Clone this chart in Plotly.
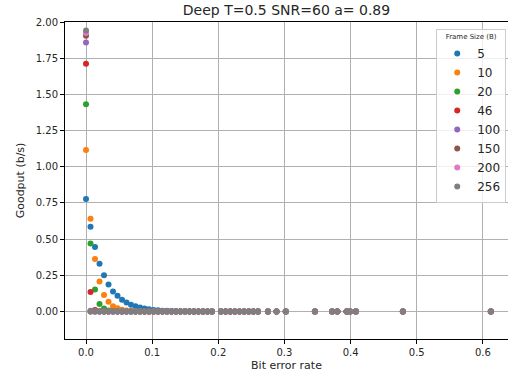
import plotly.graph_objects as go

ber = [0.0, 0.0068, 0.0136, 0.0204, 0.0272, 0.034, 0.0408, 0.0476, 0.0544, 0.0612,
       0.068, 0.0748, 0.0816, 0.0884, 0.0952, 0.102, 0.1088, 0.1156, 0.1224, 0.1292,
       0.136, 0.1428, 0.1496, 0.1564, 0.1632, 0.17, 0.1768, 0.1836, 0.1904,
       0.204, 0.211, 0.218, 0.225, 0.232, 0.239, 0.246, 0.253, 0.26,
       0.275, 0.288, 0.302, 0.346, 0.372, 0.38, 0.394, 0.399, 0.408, 0.479, 0.612]

g5 = [0.777, 0.585, 0.445, 0.33, 0.25, 0.187, 0.138, 0.108, 0.081, 0.062,
      0.047, 0.036, 0.027, 0.02, 0.015, 0.011, 0.008, 0.006, 0.0045, 0.0034,
      0.0025, 0.0019, 0.0014, 0.001, 0.0008, 0.0006, 0.0004, 0.0003, 0.0002,
      0.0, 0.0, 0.0, 0.0, 0.0, 0.0, 0.0, 0.0, 0.0,
      0.0, 0.0, 0.0, 0.0, 0.0, 0.0, 0.0, 0.0, 0.0, 0.0, 0.0]
g10 = [1.115, 0.64, 0.362, 0.207, 0.114, 0.067, 0.036, 0.022, 0.012, 0.007,
       0.004, 0.002, 0.001, 0.0006, 0.0003, 0.0002, 0.0001, 0.0, 0.0, 0.0,
       0.0, 0.0, 0.0, 0.0, 0.0, 0.0, 0.0, 0.0, 0.0,
       0.0, 0.0, 0.0, 0.0, 0.0, 0.0, 0.0, 0.0, 0.0,
       0.0, 0.0, 0.0, 0.0, 0.0, 0.0, 0.0, 0.0, 0.0, 0.0, 0.0]
g20 = [1.431, 0.47, 0.152, 0.052, 0.02, 0.007, 0.003, 0.001, 0.0004, 0.0001,
       0.0, 0.0, 0.0, 0.0, 0.0, 0.0, 0.0, 0.0, 0.0, 0.0,
       0.0, 0.0, 0.0, 0.0, 0.0, 0.0, 0.0, 0.0, 0.0,
       0.0, 0.0, 0.0, 0.0, 0.0, 0.0, 0.0, 0.0, 0.0,
       0.0, 0.0, 0.0, 0.0, 0.0, 0.0, 0.0, 0.0, 0.0, 0.0, 0.0]
g46 = [1.712, 0.134, 0.01, 0.001, 0.0, 0.0, 0.0, 0.0, 0.0, 0.0,
       0.0, 0.0, 0.0, 0.0, 0.0, 0.0, 0.0, 0.0, 0.0, 0.0,
       0.0, 0.0, 0.0, 0.0, 0.0, 0.0, 0.0, 0.0, 0.0,
       0.0, 0.0, 0.0, 0.0, 0.0, 0.0, 0.0, 0.0, 0.0,
       0.0, 0.0, 0.0, 0.0, 0.0, 0.0, 0.0, 0.0, 0.0, 0.0, 0.0]
g100 = [1.859, 0.006, 0.0, 0.0, 0.0, 0.0, 0.0, 0.0, 0.0, 0.0,
        0.0, 0.0, 0.0, 0.0, 0.0, 0.0, 0.0, 0.0, 0.0, 0.0,
        0.0, 0.0, 0.0, 0.0, 0.0, 0.0, 0.0, 0.0, 0.0,
        0.0, 0.0, 0.0, 0.0, 0.0, 0.0, 0.0, 0.0, 0.0,
        0.0, 0.0, 0.0, 0.0, 0.0, 0.0, 0.0, 0.0, 0.0, 0.0, 0.0]
g150 = [1.905, 0.0, 0.0, 0.0, 0.0, 0.0, 0.0, 0.0, 0.0, 0.0,
        0.0, 0.0, 0.0, 0.0, 0.0, 0.0, 0.0, 0.0, 0.0, 0.0,
        0.0, 0.0, 0.0, 0.0, 0.0, 0.0, 0.0, 0.0, 0.0,
        0.0, 0.0, 0.0, 0.0, 0.0, 0.0, 0.0, 0.0, 0.0,
        0.0, 0.0, 0.0, 0.0, 0.0, 0.0, 0.0, 0.0, 0.0, 0.0, 0.0]
g200 = [1.924, 0.0, 0.0, 0.0, 0.0, 0.0, 0.0, 0.0, 0.0, 0.0,
        0.0, 0.0, 0.0, 0.0, 0.0, 0.0, 0.0, 0.0, 0.0, 0.0,
        0.0, 0.0, 0.0, 0.0, 0.0, 0.0, 0.0, 0.0, 0.0,
        0.0, 0.0, 0.0, 0.0, 0.0, 0.0, 0.0, 0.0, 0.0,
        0.0, 0.0, 0.0, 0.0, 0.0, 0.0, 0.0, 0.0, 0.0, 0.0, 0.0]
g256 = [1.942, 0.0, 0.0, 0.0, 0.0, 0.0, 0.0, 0.0, 0.0, 0.0,
        0.0, 0.0, 0.0, 0.0, 0.0, 0.0, 0.0, 0.0, 0.0, 0.0,
        0.0, 0.0, 0.0, 0.0, 0.0, 0.0, 0.0, 0.0, 0.0,
        0.0, 0.0, 0.0, 0.0, 0.0, 0.0, 0.0, 0.0, 0.0,
        0.0, 0.0, 0.0, 0.0, 0.0, 0.0, 0.0, 0.0, 0.0, 0.0, 0.0]

frame_sizes = ["5", "10", "20", "46", "100", "150", "200", "256"]
series = [g5, g10, g20, g46, g100, g150, g200, g256]
colors = ["#1f77b4", "#ff7f0e", "#2ca02c", "#d62728", "#9467bd", "#8c564b", "#e377c2", "#7f7f7f"]

x_ticks = [0.0, 0.1, 0.2, 0.3, 0.4, 0.5, 0.6]
y_ticks = [0.0, 0.25, 0.5, 0.75, 1.0, 1.25, 1.5, 1.75, 2.0]

FONT = "DejaVu Sans"

fig = go.Figure()
for name, ys, c in zip(frame_sizes, series, colors):
    fig.add_trace(go.Scatter(x=ber, y=ys, mode="markers", name=name,
                             marker=dict(color=c, size=6, line=dict(width=0))))

fig.update_layout(
    width=508, height=383,
    margin=dict(l=65, r=0, t=22, b=44, autoexpand=False),
    paper_bgcolor="white", plot_bgcolor="white",
    font=dict(family=FONT, color="#262626", size=10),
    title=dict(text="Deep T=0.5 SNR=60 a= 0.89", x=0.5, xref="paper", xanchor="center",
               y=1 - 10 / 383, yanchor="middle", yref="container",
               font=dict(family=FONT, size=14, color="#262626")),
    legend=dict(
        title=dict(text="Frame Size (B)", font=dict(size=7, family=FONT), side="top center"),
        x=0.996, y=0.978, xanchor="right", yanchor="top",
        bgcolor="rgba(255,255,255,0.8)", bordercolor="#cccccc", borderwidth=1,
        font=dict(size=12, family=FONT, color="#262626"),
        itemwidth=30,
    ),
    showlegend=True,
)
fig.update_xaxes(
    range=[-0.0318, 0.638], tickvals=x_ticks, tickformat=".1f",
    showgrid=True, gridcolor="#b0b0b0", gridwidth=1, zeroline=False,
    showline=True, linecolor="black", linewidth=1, mirror=True,
    ticks="outside", ticklen=4, tickcolor="black",
    title=dict(text="Bit error rate", font=dict(size=11, family=FONT), standoff=4),
    tickfont=dict(size=10, family=FONT),
)
fig.update_yaxes(
    range=[-0.19, 2.0], tickvals=y_ticks, tickformat=".2f",
    showgrid=True, gridcolor="#b0b0b0", gridwidth=1, zeroline=False,
    showline=True, linecolor="black", linewidth=1, mirror=True,
    ticks="outside", ticklen=4, tickcolor="black",
    title=dict(text="Goodput (b/s)", font=dict(size=11, family=FONT), standoff=8),
    tickfont=dict(size=10, family=FONT),
)

fig.write_html("out.html", config={"displayModeBar": False},
               post_script="document.body.style.margin='0';")
